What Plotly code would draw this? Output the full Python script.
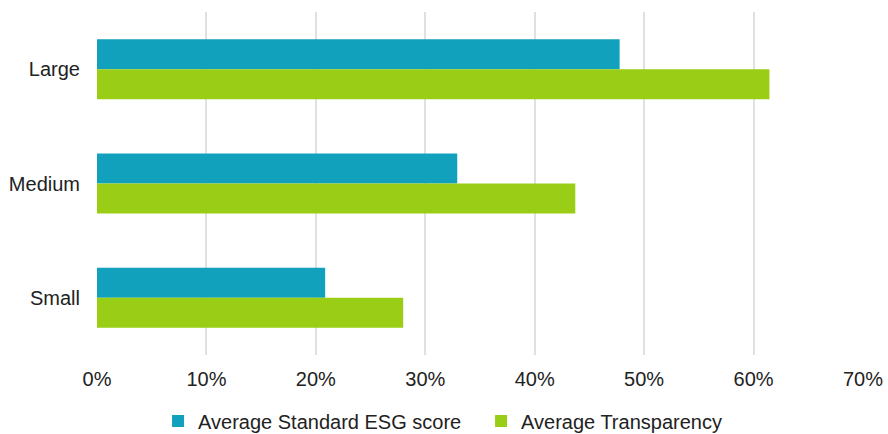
import plotly.graph_objects as go

categories = ["Large", "Medium", "Small"]
esg_values = [0.4776, 0.3292, 0.2085]
transparency_values = [0.6145, 0.4371, 0.2798]
series_names = ["Average Standard ESG score", "Average Transparency"]
x_ticks = [0, 0.1, 0.2, 0.3, 0.4, 0.5, 0.6, 0.7]

FONT = "Liberation Sans, Arial, sans-serif"

fig = go.Figure()
fig.add_trace(go.Bar(y=categories, x=esg_values, orientation="h", name=series_names[0],
                     marker=dict(color="#12A1BD", line=dict(width=0))))
fig.add_trace(go.Bar(y=categories, x=transparency_values, orientation="h", name=series_names[1],
                     marker=dict(color="#9ACD15", line=dict(width=0))))

fig.update_layout(
    width=888, height=434,
    margin=dict(l=97, r=25, t=12, b=79),
    paper_bgcolor="white", plot_bgcolor="white",
    barmode="group", bargap=0.475, bargroupgap=0,
    font=dict(family=FONT, size=20, color="#222222"),
    xaxis=dict(range=[0, 0.7], tickvals=x_ticks, tickformat=".0%",
               showgrid=True, gridcolor="#E0E0E0", gridwidth=2, automargin=False,
               zeroline=False, showline=False, ticks="", ticklabelstandoff=10),
    yaxis=dict(autorange="reversed", showgrid=False, zeroline=False, showline=False,
               automargin=False, ticks="", ticklabelstandoff=16),
    legend=dict(orientation="h", x=0.178, xanchor="left", xref="container",
                y=0.03, yanchor="middle", yref="container", entrywidth=278,
                font=dict(size=20), traceorder="normal", itemwidth=30),
    showlegend=True,
)

fig.write_html("out.html")
